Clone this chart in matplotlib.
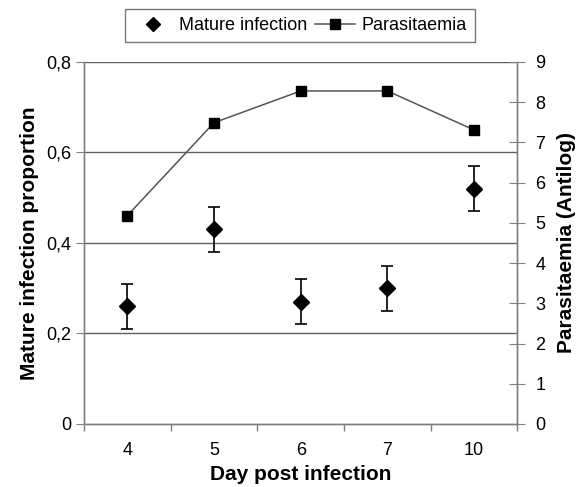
import numpy as np
import matplotlib
matplotlib.use("Agg")
import matplotlib.pyplot as plt
from matplotlib.lines import Line2D

plt.rcParams['font.family'] = ['Liberation Sans', 'DejaVu Sans']

# Datos
dias = ['4', '5', '6', '7', '10']
mature = [0.26, 0.43, 0.27, 0.30, 0.52]
mature_err = [0.05, 0.05, 0.05, 0.05, 0.05]
parasit = [5.18, 7.49, 8.28, 8.28, 7.31]

x = np.arange(len(dias))

fig = plt.figure(figsize=(5.84, 4.87), dpi=100)
ax = fig.add_axes([0.1438, 0.1294, 0.886 - 0.1438, 0.8727 - 0.1294])
ax2 = ax.twinx()

# lineas horizontales de la rejilla
for yv in [0.2, 0.4, 0.6, 0.8]:
    ax.axhline(yv, color='#606060', lw=1.0, zorder=0)

ax.errorbar(x, mature, yerr=mature_err, fmt='D', color='black', ms=8.5,
            ecolor='black', elinewidth=1.2, capsize=4.5, capthick=1.2, zorder=3)
ax2.plot(x, parasit, color='#555555', lw=1.1, marker='s', ms=7.7,
         mfc='black', mec='black', zorder=3)

ax.set_xlim(-0.5, 4.5)
ax.set_ylim(0, 0.8)
ax2.set_ylim(0, 9)

ax.set_xticks(np.arange(-0.5, 5, 1))
ax.set_xticklabels([])
ax.set_xticks(x, minor=True)
ax.set_xticklabels(dias, minor=True)
ax.tick_params(axis='x', which='major', direction='out', length=5, color='#808080', width=1)
ax.tick_params(axis='x', which='minor', length=0, labelsize=13, pad=13)

ax.set_yticks([0, 0.2, 0.4, 0.6, 0.8])
ax.set_yticklabels(['0', '0,2', '0,4', '0,6', '0,8'])
ax.tick_params(axis='y', direction='out', length=6, color='#808080', labelsize=13, pad=3)

ax2.set_yticks(range(0, 10))
ax2.tick_params(axis='y', direction='inout', length=12, color='#808080', labelsize=13, pad=7)

for a in (ax, ax2):
    a.spines['top'].set_visible(False)
    for s in ['left', 'right', 'bottom']:
        a.spines[s].set_color('#808080')
        a.spines[s].set_linewidth(1.0)

ax.set_xlabel('Day post infection', fontsize=15, fontweight='bold', labelpad=4)
ax.set_ylabel('Mature infection proportion', fontsize=15, fontweight='bold', labelpad=5)
ax2.set_ylabel('Parasitaemia (Antilog)', fontsize=15, fontweight='bold', labelpad=8)

handles = [Line2D([], [], ls='none', marker='D', color='black', ms=7),
           Line2D([], [], color='#555555', lw=1.1, marker='s', ms=7.7, mfc='black', mec='black')]
leg = fig.legend(handles, ['Mature infection', 'Parasitaemia'], ncol=2,
                 loc='center', bbox_to_anchor=(0.513, 0.947), fontsize=13,
                 frameon=True, fancybox=False, handlelength=2.2, columnspacing=0.45,
                 handletextpad=0.35, borderpad=0.45, borderaxespad=0)
leg.get_frame().set_edgecolor('#555555')
leg.get_frame().set_linewidth(1.0)

fig.savefig('out.png', dpi=100)
